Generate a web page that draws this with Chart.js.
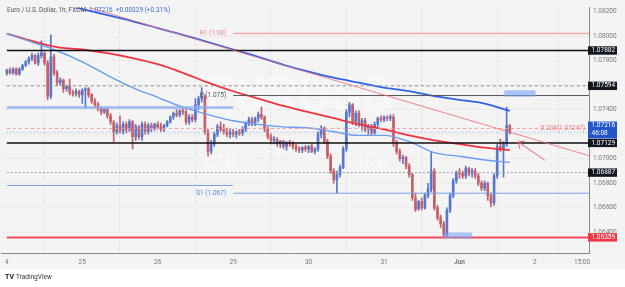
<!DOCTYPE html>
<html>
<head>
<meta charset="utf-8">
<script src="https://cdn.jsdelivr.net/npm/chart.js@4.4.1/dist/chart.umd.min.js"></script>
<style>
html,body{margin:0;padding:0;background:#ffffff;overflow:hidden;}
canvas{display:block;}
</style>
</head>
<body>
<canvas id="chart" width="625" height="287"></canvas>
<script>
// ---------------- data ----------------
const dayTicks = [0, 24, 48, 72, 96, 120, 144, 168, 183];
const dayLabels = ['4', '25', '26', '29', '30', '31', 'Jun', '2', '15:00'];
const priceTicks = [1.064, 1.066, 1.068, 1.070, 1.072, 1.074, 1.076, 1.078, 1.080, 1.082];

const open = [
1.0770,1.0772,1.0770,1.0773,1.0769,1.0773,1.0776,1.0779,1.0782,1.0784,
1.0778,1.0784,1.0786,1.0778,1.0751,1.0783,1.0770,1.0762,1.0764,1.0757,
1.0759,1.0754,1.0753,1.0755,1.0752,1.0756,1.0757,1.0752,1.0747,1.0744,
1.0741,1.0738,1.0740,1.0735,1.0730,1.0722,1.0727,1.0723,1.0728,1.0724,
1.0730,1.0718,1.0726,1.0718,1.0728,1.0722,1.0727,1.0725,1.0728,1.0726,
1.0724,1.0727,1.0730,1.0734,1.0737,1.0736,1.0739,1.0738,1.0730,1.0734,
1.0732,1.0744,1.0749,1.0751,1.0722,1.0706,1.0712,1.0720,1.0726,1.0724,
1.0722,1.0720,1.0722,1.0720,1.0722,1.0721,1.0724,1.0729,1.0732,1.0729,
1.0733,1.0736,1.0734,1.0724,1.0718,1.0715,1.0716,1.0712,1.0714,1.0710,
1.0713,1.0712,1.0710,1.0708,1.0707,1.0709,1.0708,1.0710,1.0706,1.0708,
1.0720,1.0725,1.0714,1.0702,1.0690,1.0683,1.0687,1.0693,1.0708,1.0738,
1.0744,1.0730,1.0737,1.0728,1.0731,1.0724,1.0726,1.0721,1.0728,1.0733,
1.0732,1.0734,1.0733,1.0734,1.0713,1.0706,1.0700,1.0701,1.0694,1.0687,
1.0668,1.0659,1.0665,1.0660,1.0670,1.0675,1.0690,1.0660,1.0652,1.0647,
1.0638,1.0658,1.0670,1.0682,1.06887,1.0688,1.0686,1.0692,1.0688,1.0690,
1.0686,1.0680,1.0676,1.0680,1.0670,1.0664,1.0686,1.0710,1.0708,1.0712,
1.0727];
const high = [
1.0773,1.0774,1.0774,1.0774,1.0774,1.0777,1.0780,1.0783,1.0786,1.0785,
1.0786,1.0796,1.0787,1.0780,1.0801,1.0785,1.0772,1.0766,1.0765,1.0760,
1.0765,1.0756,1.0757,1.0756,1.0757,1.0758,1.0758,1.0753,1.0749,1.0746,
1.0742,1.0741,1.0741,1.0737,1.0731,1.0729,1.0735,1.0730,1.0730,1.0732,
1.0731,1.0728,1.0727,1.0730,1.0730,1.0729,1.0729,1.0729,1.0730,1.0729,
1.0728,1.0731,1.0735,1.0738,1.0740,1.0740,1.0742,1.0740,1.0736,1.0736,
1.0749,1.0751,1.0758,1.0752,1.0724,1.0715,1.0722,1.0728,1.0730,1.0728,
1.0725,1.0724,1.0724,1.0723,1.0724,1.0726,1.0730,1.0734,1.0734,1.0734,
1.0738,1.0742,1.0735,1.0726,1.0720,1.0718,1.0717,1.0715,1.0715,1.0714,
1.0715,1.0714,1.0712,1.0710,1.0710,1.0711,1.0711,1.0712,1.0709,1.0722,
1.0727,1.0726,1.0716,1.0704,1.0692,1.0690,1.0695,1.0710,1.0740,1.0746,
1.0745,1.0739,1.0739,1.0733,1.0733,1.0728,1.0728,1.0730,1.0734,1.0735,
1.0735,1.0735,1.0736,1.0736,1.0715,1.0708,1.0703,1.0702,1.0696,1.0688,
1.0672,1.0666,1.0668,1.0672,1.0680,1.0705,1.0692,1.0662,1.0654,1.0649,
1.0660,1.0672,1.0684,1.0690,1.0692,1.0690,1.0694,1.0693,1.0692,1.0692,
1.0688,1.0682,1.0682,1.0681,1.0672,1.0688,1.0712,1.0716,1.0714,1.0742,
1.0728];
const low = [
1.0768,1.0769,1.0769,1.0768,1.0768,1.0772,1.0775,1.0777,1.0780,1.0777,
1.0776,1.0782,1.0776,1.0748,1.0749,1.0768,1.0760,1.0760,1.0754,1.0755,
1.0752,1.0751,1.0751,1.0750,1.0745,1.0741,1.0750,1.0745,1.0742,1.0739,
1.0736,1.0737,1.0733,1.0728,1.0714,1.0720,1.0721,1.0720,1.0721,1.0722,
1.0708,1.0715,1.0716,1.0715,1.0720,1.0720,1.0722,1.0723,1.0724,1.0722,
1.0722,1.0726,1.0729,1.0732,1.0734,1.0734,1.0736,1.0728,1.0728,1.0730,
1.0730,1.0740,1.0746,1.0720,1.0702,1.0704,1.0710,1.0718,1.0722,1.0720,
1.0718,1.0717,1.0718,1.0717,1.0719,1.0719,1.0722,1.0727,1.0727,1.0727,
1.0730,1.0732,1.0722,1.0716,1.0712,1.0712,1.0710,1.0709,1.0708,1.0707,
1.0710,1.0708,1.0706,1.0705,1.0705,1.0706,1.0705,1.0705,1.0704,1.0706,
1.0717,1.0712,1.0700,1.0688,1.0680,1.0672,1.0685,1.0692,1.0706,1.0734,
1.0728,1.0727,1.0726,1.0723,1.0722,1.0720,1.0719,1.0720,1.0726,1.0730,
1.0730,1.0731,1.0731,1.0710,1.0704,1.0698,1.0696,1.0692,1.0685,1.0666,
1.0657,1.0658,1.0658,1.0659,1.0668,1.0673,1.0658,1.0650,1.0644,1.0636,
1.0636,1.0656,1.0668,1.0680,1.0684,1.0684,1.0684,1.0686,1.0685,1.0684,
1.0678,1.0674,1.0674,1.0666,1.0661,1.0662,1.0684,1.0706,1.0685,1.0710,
1.0720];
const close = [
1.0772,1.0770,1.0773,1.0769,1.0773,1.0776,1.0779,1.0782,1.0784,1.0778,
1.0784,1.0786,1.0778,1.0751,1.0783,1.0770,1.0762,1.0764,1.0757,1.0759,
1.0754,1.0753,1.0755,1.0752,1.0756,1.0757,1.0752,1.0747,1.0744,1.0741,
1.0738,1.0740,1.0735,1.0730,1.0722,1.0727,1.0723,1.0728,1.0724,1.0730,
1.0718,1.0726,1.0718,1.0728,1.0722,1.0727,1.0725,1.0728,1.0726,1.0724,
1.0727,1.0730,1.0734,1.0737,1.0736,1.0739,1.0738,1.0730,1.0734,1.0732,
1.0744,1.0749,1.0751,1.0722,1.0706,1.0712,1.0720,1.0726,1.0724,1.0722,
1.0720,1.0722,1.0720,1.0722,1.0721,1.0724,1.0729,1.0732,1.0729,1.0733,
1.0736,1.0734,1.0724,1.0718,1.0715,1.0716,1.0712,1.0714,1.0710,1.0713,
1.0712,1.0710,1.0708,1.0707,1.0709,1.0708,1.0710,1.0706,1.0708,1.0720,
1.0725,1.0714,1.0702,1.0690,1.0683,1.0687,1.0693,1.0708,1.0738,1.0744,
1.0730,1.0737,1.0728,1.0731,1.0724,1.0726,1.0721,1.0728,1.0733,1.0732,
1.0734,1.0733,1.0734,1.0713,1.0706,1.0700,1.0701,1.0694,1.0687,1.0668,
1.0659,1.0665,1.0660,1.0670,1.0675,1.0690,1.0660,1.0652,1.0647,1.0638,
1.0658,1.0670,1.0682,1.06887,1.0688,1.0686,1.0692,1.0688,1.0690,1.0686,
1.0680,1.0676,1.0680,1.0670,1.0664,1.0686,1.0710,1.0708,1.0712,1.0727,
1.07216];

// moving averages (read at sampled bars)
const maIdx = [0,8,16,24,32,40,48,56,64,72,80,88,96,104,112,120,128,136,144,152,160];
const maRed = [1.0802,1.0796,1.0791,1.0789,1.0786,1.0782,1.0777,1.0770,1.0762,1.0755,1.0749,1.0743,1.0738,1.0733,1.0728,1.0724,1.0719,1.0715,1.0712,1.0709,1.0707];
const maLight = [1.0802,1.0795,1.0788,1.0779,1.0768,1.0758,1.0750,1.0742,1.0736,1.0731,1.0728,1.0726,1.0725,1.0722,1.0719,1.0719,1.0714,1.0705,1.0702,1.0699,1.0697];
const maDarkIdx = [16,24,32,40,48,56,64,72,80,88,96,104,112,120,128,136,144,152,160];
const maDark = [1.0827,1.0822,1.0817,1.0812,1.08065,1.0801,1.0795,1.0789,1.0783,1.07765,1.0771,1.0766,1.0762,1.0758,1.0755,1.0751,1.0748,1.0745,1.0739];

// trend line (two anchors)
const trendIdx = [20, 186];
const trendPrice = [1.08279, 1.07019];

// horizontal levels
const blackLevels = [1.07882, 1.07129];
const dashedLevel = 1.07594;
const prevCloseLevel = 1.06887;
const lowLevel = 1.06359;
const fibLevel = 1.07247;
const lastPrice = 1.07216;
const pivotR1 = 1.0802, pivotP = 1.07515, pivotS1 = 1.06719;
const prevPivot = 1.07418, prevS1 = 1.06782;
const countdown = '46:08';
const titleText = ['Euro / U.S. Dollar, 1h, FXCM', '1.07216', '+0.00329 (+0.31%)'];
const watermark = ['EURUSD', 'Euro / U.S. Dollar'];

// annotation shapes (bar index / price)
const zoneA = {x0: 158.2, x1: 168.2, y0: 1.07505, y1: 1.07558};
const zoneB = {x0: 138.9, x1: 148.1, y0: 1.0635, y1: 1.0640};
const arrowFrom = {x: 171.2, y: 1.06987};
const arrowTo = {x: 162.7, y: 1.07137};

// ---------------- chart ----------------
const FONT = 'Roboto, "Liberation Sans", sans-serif';
const UP = '#5677cc', DOWN = '#c65f68';
const candleColors = close.map((c, i) => c >= open[i] ? UP : DOWN);
const FIRST = 0, LAST = 186, PIVSTART = 72;

function hline(v, x0, x1, color, width, dash, order) {
  return {type: 'line', data: [{x: x0, y: v}, {x: x1, y: v}], borderColor: color,
    borderWidth: width, borderDash: dash || [], pointRadius: 0, order: order, fill: false};
}
function series(idx, vals, color, width, order) {
  return {type: 'line', data: idx.map((x, i) => ({x: x, y: vals[i]})), borderColor: color,
    borderWidth: width, pointRadius: 0, cubicInterpolationMode: 'monotone', order: order, fill: false};
}

const datasets = [
  hline(blackLevels[0], FIRST, LAST, '#111111', 1.5, null, 1),
  hline(blackLevels[1], FIRST, LAST, '#111111', 1.5, null, 1),
  hline(dashedLevel, FIRST, LAST, '#8a8a8a', 1, [3, 3], 1),
  hline(prevCloseLevel, FIRST, LAST, '#9a9a9a', 1, [2, 2], 1),
  hline(lowLevel, FIRST, LAST, '#f04b57', 2, null, 1),
  hline(fibLevel, FIRST, LAST, '#f39aa1', 1, [3, 3], 1),
  hline(lastPrice, FIRST, LAST, '#8fa9e0', 1, [1, 2], 1),
  hline(pivotR1, PIVSTART, LAST, '#f6a9ad', 1.5, null, 1),
  hline(pivotP, PIVSTART, LAST, '#555555', 1, null, 1),
  hline(pivotS1, PIVSTART, LAST, '#7a9ee8', 1, null, 1),
  hline(prevPivot, FIRST, PIVSTART, 'rgba(140,175,240,0.85)', 2.5, null, 1),
  hline(prevS1, FIRST, PIVSTART, '#7a9ee8', 1, null, 1),
  series(maIdx, maLight, '#6b9bf2', 1.4, 2),
  series(maIdx, maRed, '#ef3340', 1.8, 2),
  series(maDarkIdx, maDark, '#2f62ea', 1.8, 2),
  {type: 'line', data: trendIdx.map((x, i) => ({x: x, y: trendPrice[i]})), borderColor: 'rgba(242,110,120,0.85)',
   borderWidth: 1, pointRadius: 0, order: 0, fill: false},
  {type: 'bar', data: close.map((c, i) => ({x: i, y: [low[i], high[i]]})), backgroundColor: candleColors,
   barThickness: 1, grouped: false, borderWidth: 0, order: 11},
  {type: 'bar', data: close.map((c, i) => ({x: i, y: [open[i], c]})), backgroundColor: candleColors,
   barThickness: 2, minBarLength: 1, grouped: false, borderWidth: 0, order: 10}
];

const decor = {
  id: 'decor',
  beforeDraw(chart) {
    const {ctx, width, height} = chart;
    ctx.save();
    ctx.fillStyle = '#f4f4f4';
    ctx.fillRect(0, 0, width, height);
    ctx.fillStyle = '#ffffff';
    ctx.fillRect(0, 269, width, height - 269);
    ctx.restore();
  },
  beforeDatasetsDraw(chart) {
    const {ctx} = chart;
    ctx.save();
    ctx.fillStyle = 'rgba(255,255,255,0.4)';
    ctx.textAlign = 'center'; ctx.textBaseline = 'middle';
    ctx.font = '600 50px ' + FONT;
    ctx.fillText(watermark[0], 300, 99);
    ctx.font = '25px ' + FONT;
    ctx.fillText(watermark[1], 298, 162);
    ctx.restore();
  },
  afterDatasetsDraw(chart) {
    const {ctx} = chart;
    const xs = chart.scales.x, ys = chart.scales.y;
    ctx.save();
    // zones
    ctx.fillStyle = 'rgba(120,165,245,0.6)';
    [zoneA, zoneB].forEach(z => {
      const x0 = xs.getPixelForValue(z.x0), x1 = xs.getPixelForValue(z.x1);
      const y0 = ys.getPixelForValue(z.y1), y1 = ys.getPixelForValue(z.y0);
      ctx.beginPath();
      ctx.roundRect(x0, y0, x1 - x0, y1 - y0, 2);
      ctx.fill();
    });
    // arrow
    const ax0 = xs.getPixelForValue(arrowFrom.x), ay0 = ys.getPixelForValue(arrowFrom.y);
    const ax1 = xs.getPixelForValue(arrowTo.x), ay1 = ys.getPixelForValue(arrowTo.y);
    ctx.strokeStyle = '#f0606c'; ctx.lineWidth = 1;
    ctx.beginPath(); ctx.moveTo(ax0, ay0); ctx.lineTo(ax1, ay1); ctx.stroke();
    const ang = Math.atan2(ay0 - ay1, ax0 - ax1);
    ctx.beginPath();
    ctx.moveTo(ax1 + 7 * Math.cos(ang + 0.75), ay1 + 7 * Math.sin(ang + 0.75));
    ctx.lineTo(ax1, ay1);
    ctx.lineTo(ax1 + 7 * Math.cos(ang - 0.75), ay1 + 7 * Math.sin(ang - 0.75));
    ctx.stroke();
    // pivot labels
    ctx.font = '6.5px ' + FONT;
    ctx.textAlign = 'right'; ctx.textBaseline = 'middle';
    const lx = xs.getPixelForValue(PIVSTART) - 7;
    ctx.fillStyle = '#f08a90';
    ctx.fillText('R1 (1.08)', lx, ys.getPixelForValue(pivotR1));
    ctx.fillStyle = '#555555';
    ctx.fillText('P (1.075)', lx, ys.getPixelForValue(pivotP));
    ctx.fillStyle = '#5b86e6';
    ctx.fillText('S1 (1.067)', lx, ys.getPixelForValue(pivotS1));
    ctx.fillStyle = '#f07a82';
    ctx.fillText('0.236(' + fibLevel.toFixed(5) + ')', chart.chartArea.right - 4, ys.getPixelForValue(fibLevel));
    ctx.restore();
  },
  afterDraw(chart) {
    const {ctx} = chart;
    const ys = chart.scales.y;
    const right = chart.chartArea.right;
    ctx.save();
    ctx.font = '6.5px ' + FONT;
    ctx.textBaseline = 'middle'; ctx.textAlign = 'left';
    function box(v, bg, offset, lines) {
      const y = ys.getPixelForValue(v) + offset;
      const h = 8.4 * lines.length;
      ctx.fillStyle = bg;
      ctx.fillRect(right - 1, y - 4.2, 29, h);
      ctx.fillStyle = '#ffffff';
      lines.forEach((t, k) => ctx.fillText(t, right + 2.5, y + k * 7.4));
    }
    box(blackLevels[0], '#131722', 0, [blackLevels[0].toFixed(5)]);
    box(dashedLevel, '#131722', 0, [dashedLevel.toFixed(5)]);
    box(blackLevels[1], '#131722', 0, [blackLevels[1].toFixed(5)]);
    box(prevCloseLevel, '#131722', 0, [prevCloseLevel.toFixed(5)]);
    box(lowLevel, '#f23645', 0, [lowLevel.toFixed(5)]);
    box(lastPrice, '#2357c9', -6.5, [lastPrice.toFixed(5), countdown]);
    // title
    ctx.textAlign = 'left';
    let x = 7;
    ctx.fillStyle = '#555555';
    ctx.fillText(titleText[0], x, 10.5);
    x += ctx.measureText(titleText[0]).width + 3;
    ctx.fillStyle = '#3b6cd6';
    ctx.fillText(titleText[1], x, 10.5);
    x += ctx.measureText(titleText[1]).width + 3;
    ctx.fillText(titleText[2], x, 10.5);
    // logo
    ctx.fillStyle = '#131722';
    ctx.font = 'bold 7px ' + FONT;
    ctx.fillText('TV', 5, 277);
    ctx.font = '6.5px ' + FONT;
    ctx.fillStyle = '#333333';
    ctx.fillText('TradingView', 16, 277);
    ctx.restore();
  }
};

new Chart(document.getElementById('chart'), {
  type: 'bar',
  data: {datasets: datasets},
  plugins: [decor],
  options: {
    responsive: false, animation: false, devicePixelRatio: 1,
    layout: {padding: {left: 0, right: 0, top: 0, bottom: 18}},
    plugins: {legend: {display: false}, tooltip: {enabled: false}},
    scales: {
      x: {
        type: 'linear', min: -1.585, max: 185.2, offset: false,
        afterBuildTicks: s => { s.ticks = dayTicks.map(v => ({value: v})); },
        afterFit: s => { s.height = 16; },
        ticks: {autoSkip: false, maxRotation: 0, padding: 5, color: '#777777',
          font: ctx => ({family: FONT, size: 6.5, weight: dayLabels[ctx.index] === 'Jun' ? 'bold' : 'normal'}),
          callback: (v, i) => dayLabels[i]},
        grid: {color: '#dadada', drawTicks: false, lineWidth: 1},
        border: {color: '#8a8a8a', width: 1, dash: [2, 2]}
      },
      y: {
        type: 'linear', position: 'right', min: 1.06232, max: 1.08229,
        afterBuildTicks: s => { s.ticks = priceTicks.map(v => ({value: v})); },
        afterFit: s => { s.width = 36; },
        ticks: {padding: 4, color: '#777777', font: {family: FONT, size: 6.5},
          callback: v => v.toFixed(5)},
        grid: {color: '#ebebeb', drawTicks: false},
        border: {color: '#8a8a8a', width: 1}
      }
    }
  }
});
</script>
</body>
</html>
